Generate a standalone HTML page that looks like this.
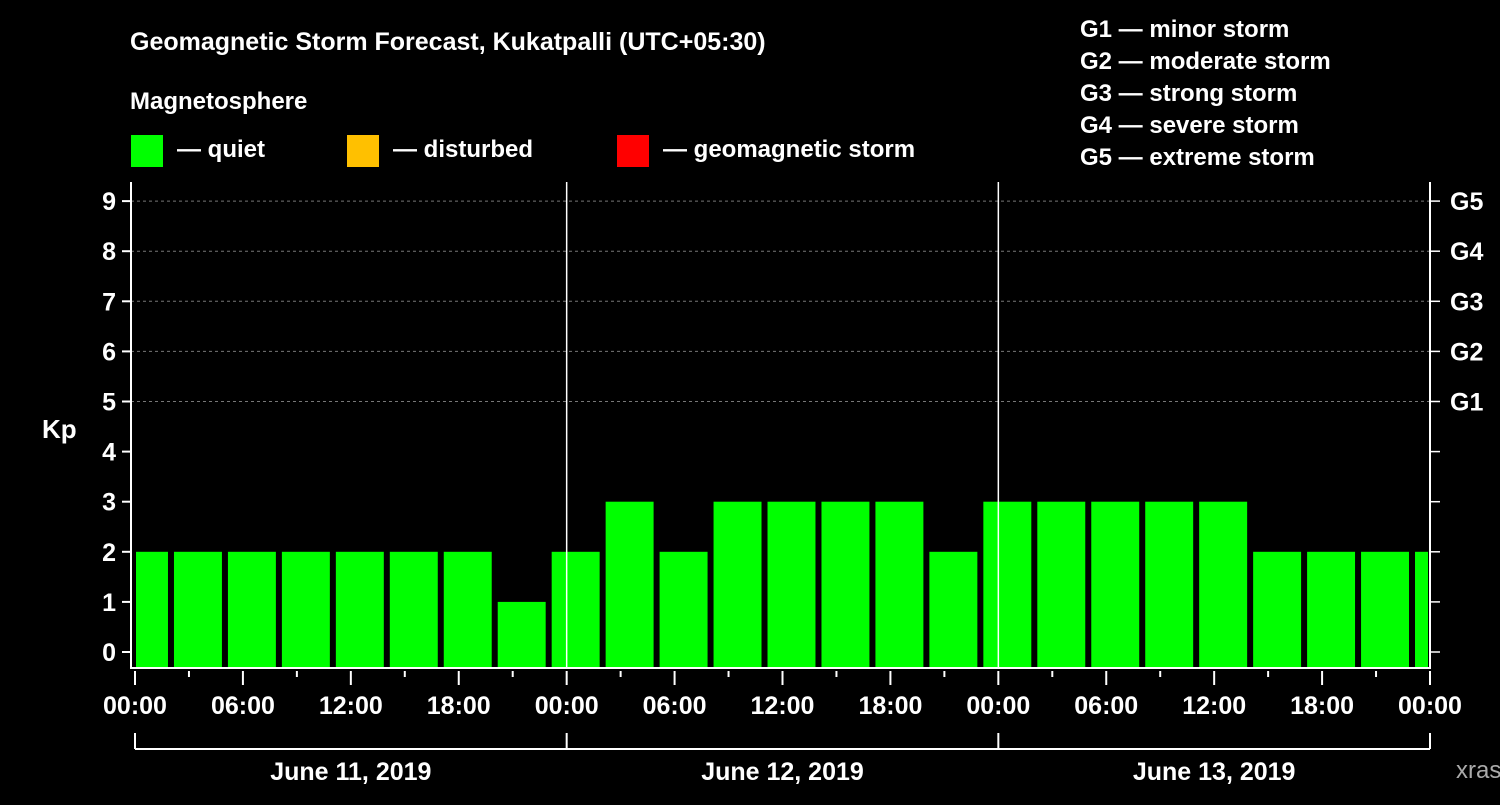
<!DOCTYPE html>
<html><head><meta charset="utf-8"><style>
body{margin:0;background:#000;}
svg text{font-family:"Liberation Sans",sans-serif;font-weight:bold;fill:#fff;}
</style></head><body>
<svg width="1500" height="800" viewBox="0 0 1500 800">
<rect width="1500" height="800" fill="#000"/>
<text x="130" y="50" font-size="25">Geomagnetic Storm Forecast, Kukatpalli (UTC+05:30)</text>
<text x="130" y="109" font-size="24">Magnetosphere</text>
<g><rect x="131" y="135" width="32" height="32" fill="#00ff00"/><text x="177" y="157" font-size="24">— quiet</text></g>
<g><rect x="347" y="135" width="32" height="32" fill="#ffc000"/><text x="393" y="157" font-size="24">— disturbed</text></g>
<g><rect x="617" y="135" width="32" height="32" fill="#ff0000"/><text x="663" y="157" font-size="24">— geomagnetic storm</text></g>
<g font-size="24">
<text x="1080" y="37">G1 — minor storm</text><text x="1080" y="69">G2 — moderate storm</text><text x="1080" y="101">G3 — strong storm</text><text x="1080" y="133">G4 — severe storm</text><text x="1080" y="165">G5 — extreme storm</text></g>
<g id="grid"></g><g id="bars"></g><g id="axes"></g>
<text x="42" y="438" font-size="26">Kp</text>
<text x="1456" y="778" font-size="24" fill="#888" style="fill:#aaa;font-weight:normal">xras.ru</text>
</svg>
<script>
const kpValues=[2,2,2,2,2,2,2,1,2,3,2,3,3,3,3,2,3,3,3,3,3,2,2,2,2];
const yTicks=[0,1,2,3,4,5,6,7,8,9];
const gLabels=["G1","G2","G3","G4","G5"];
const hourLabels=["00:00","06:00","12:00","18:00"];
const dayLabels=["June 11, 2019","June 12, 2019","June 13, 2019"];
const firstBarHour=-1; // bars start at 02:00 local in 3h steps (first one clipped)
const NS="http://www.w3.org/2000/svg";
const X0=135,X1=1430,PX_H=(X1-X0)/72,YB=668;
const xs=h=>X0+h*PX_H;
const ys=k=>652-k*50.1;
function mk(p,t,a){const e=document.createElementNS(NS,t);for(const k in a)e.setAttribute(k,a[k]);p.appendChild(e);return e;}
const grid=document.getElementById('grid'),bars=document.getElementById('bars'),axes=document.getElementById('axes');
yTicks.forEach(k=>{if(k>=5){const l=mk(grid,'line',{x1:131,x2:X1,y1:ys(k),y2:ys(k),stroke:'#777','stroke-dasharray':'3,3'});

}
const t=mk(axes,'text',{x:116,y:ys(k)+9,'font-size':25,'text-anchor':'end'});t.textContent=k;


mk(axes,'line',{x1:122,x2:131,y1:ys(k),y2:ys(k),stroke:'#fff','stroke-width':2});
mk(axes,'line',{x1:X1,x2:1440,y1:ys(k),y2:ys(k),stroke:'#fff','stroke-width':1.5});
if(k>=5){const g=mk(axes,'text',{x:1450,y:ys(k)+9,'font-size':25});g.textContent=gLabels[k-5];

}});
kpValues.forEach((v,i)=>{let h0=firstBarHour+i*3,h1=h0+3;let x0=xs(h0)+3,x1=xs(h1)-3;x0=Math.max(x0,X0+1);x1=Math.min(x1,X1-2);
const r=mk(bars,'rect',{x:x0,y:ys(v),width:x1-x0,height:YB-ys(v),fill:v>=5?'#ff0000':v>=4?'#ffc000':'#00ff00'});

});
mk(axes,'line',{x1:131,x2:131,y1:182,y2:YB+1,stroke:'#fff','stroke-width':2});
mk(axes,'line',{x1:X1,x2:X1,y1:182,y2:YB+1,stroke:'#fff','stroke-width':2});
mk(axes,'line',{x1:130,x2:X1+1,y1:YB,y2:YB,stroke:'#fff','stroke-width':2});
[1,2].forEach(d=>mk(axes,'line',{x1:xs(d*24),x2:xs(d*24),y1:182,y2:YB,stroke:'#fff','stroke-width':1.5}));
for(let h=0;h<=72;h+=3){const major=h%6==0;mk(axes,'line',{x1:xs(h),x2:xs(h),y1:671,y2:major?685:677,stroke:'#fff','stroke-width':2});
if(major){const t=mk(axes,'text',{x:xs(h),y:714,'font-size':25,'text-anchor':'middle'});t.textContent=hourLabels[(h%24)/6];

}}
mk(axes,'line',{x1:X0,x2:X1,y1:749,y2:749,stroke:'#fff','stroke-width':2});
for(let d=0;d<=3;d++)mk(axes,'line',{x1:xs(d*24),x2:xs(d*24),y1:733,y2:749,stroke:'#fff','stroke-width':2});
dayLabels.forEach((s,d)=>{const t=mk(axes,'text',{x:xs(d*24+12),y:780,'font-size':25,'text-anchor':'middle'});t.textContent=s;

});
</script>
</body></html>
